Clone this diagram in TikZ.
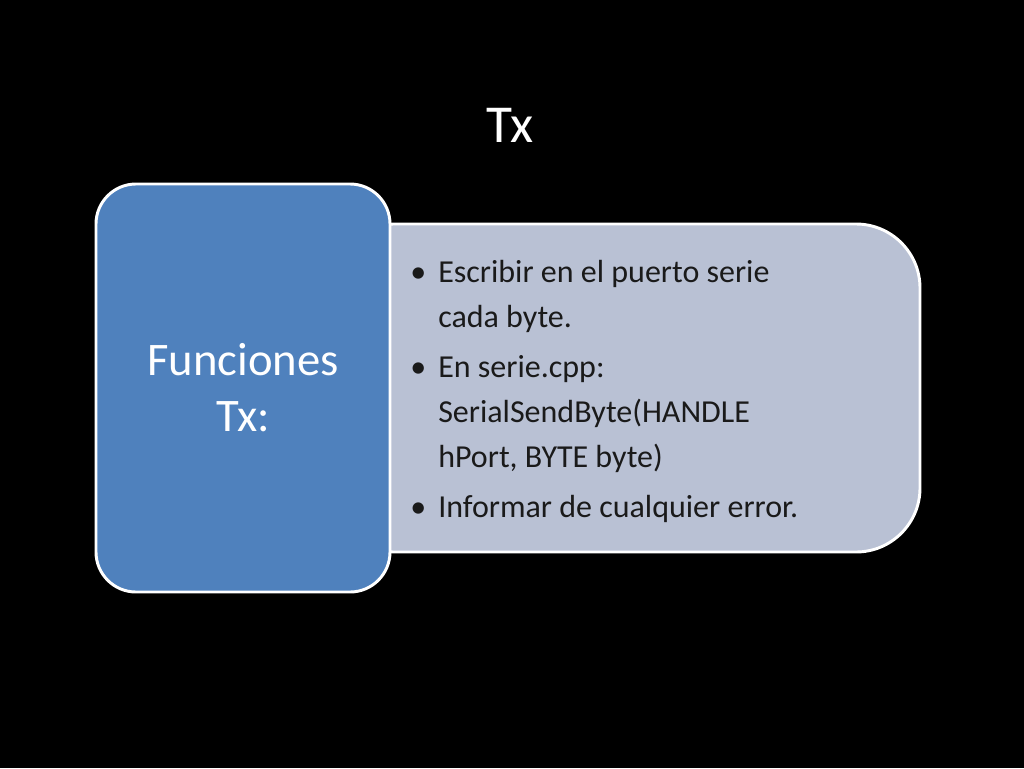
\documentclass[tikz,border=0pt]{standalone}
\usepackage{fontspec}
\setmainfont{Carlito}
\definecolor{blueb}{HTML}{4F81BD}
\definecolor{grayb}{HTML}{B9C1D4}
\definecolor{txt}{HTML}{1A1A1A}
\begin{document}
\begin{tikzpicture}[x=0.75pt,y=-0.75pt,
  bl/.style={anchor=base west,font=\fontsize{24}{29}\selectfont,text=txt,inner sep=0pt}]
\fill[black] (0,0) rectangle (1024,768);
\useasboundingbox (0,0) rectangle (1024,768);
\node[font=\fontsize{40}{48}\selectfont,text=white,anchor=base] (title) at (510,142) {Tx};
\draw[white,line width=2.2pt,fill=grayb,rounded corners=48pt] (330,224) -- (920,224) -- (920,552) -- (330,552) -- cycle;
\draw[white,line width=2.2pt,fill=blueb,rounded corners=30pt] (96,184) rectangle (390,592);
\node[text=white,font=\fontsize{35}{42}\selectfont,align=center] (f) at (243,388) {Funciones\\Tx:};
\node[bl] (b1) at (410,282) {•};
\node[bl] (l1) at (438,282) {Escribir en el puerto serie};
\node[bl] (l2) at (438,327) {cada byte.};
\node[bl] (b2) at (410,377) {•};
\node[bl] (l3) at (438,377) {En serie.cpp:};
\node[bl] (l4) at (438,422) {SerialSendByte(HANDLE};
\node[bl] (l5) at (438,467) {hPort, BYTE byte)};
\node[bl] (b3) at (410,517) {•};
\node[bl] (l6) at (438,517) {Informar de cualquier error.};
\end{tikzpicture}
\end{document}
